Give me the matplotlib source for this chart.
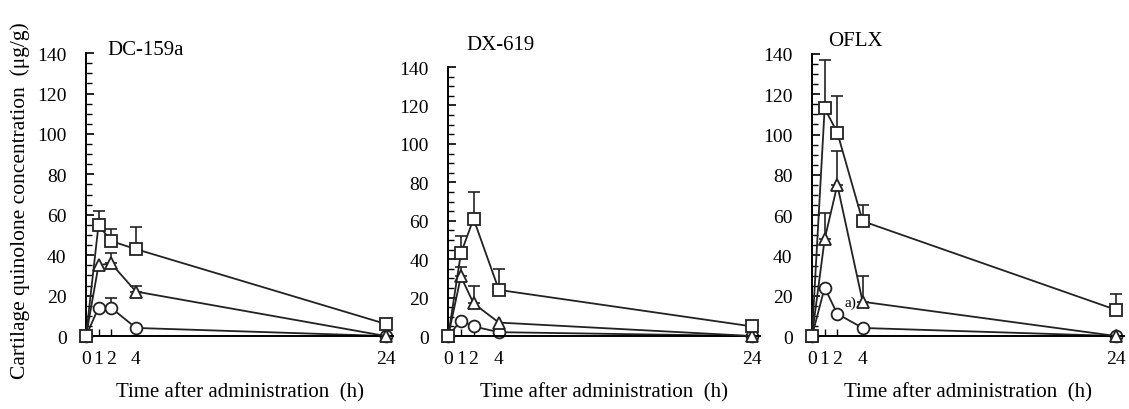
import numpy as np
import matplotlib
matplotlib.use("Agg")
import matplotlib.pyplot as plt
from matplotlib.ticker import MultipleLocator

plt.rcParams['font.family'] = ['Liberation Serif', 'DejaVu Serif']

# data
times = [0, 1, 2, 4, 24]
drugs = ["DC-159a", "DX-619", "OFLX"]

dc_square = [0, 55, 47, 43, 6]
dc_square_err = [0, 7, 6, 11, 0]
dc_triangle = [0, 35, 36, 22, 0]
dc_triangle_err = [0, 0, 5, 3, 0]
dc_circle = [0, 14, 14, 4, 0]
dc_circle_err = [0, 0, 5, 0, 0]

dx_square = [0, 43, 61, 24, 5]
dx_square_err = [0, 9, 14, 11, 0]
dx_triangle = [0, 31, 17, 7, 0]
dx_triangle_err = [0, 5, 9, 0, 0]
dx_circle = [0, 8, 5, 2, 0]
dx_circle_err = [0, 0, 0, 0, 0]

of_square = [0, 113, 101, 57, 13]
of_square_err = [0, 24, 18, 8, 8]
of_triangle = [0, 48, 75, 17, 0]
of_triangle_err = [0, 13, 17, 13, 0]
of_circle = [0, 24, 11, 4, 0]
of_circle_err = [0, 0, 0, 0, 0]

# drawn circle -> triangle -> square so squares sit on top
series = {
    "DC-159a": [(dc_circle, dc_circle_err, 'o'), (dc_triangle, dc_triangle_err, '^'), (dc_square, dc_square_err, 's')],
    "DX-619": [(dx_circle, dx_circle_err, 'o'), (dx_triangle, dx_triangle_err, '^'), (dx_square, dx_square_err, 's')],
    "OFLX": [(of_circle, of_circle_err, 'o'), (of_triangle, of_triangle_err, '^'), (of_square, of_square_err, 's')],
}

# axes positions (figure fraction)
boxes = [
    [0.0762, 0.178, 0.272, 0.690],
    [0.397, 0.178, 0.276, 0.656],
    [0.7192, 0.178, 0.276, 0.688],
]
title_xy = [(0.0955, 0.878), (0.4135, 0.890), (0.7333, 0.898)]

fig = plt.figure(figsize=(11.29, 4.10), dpi=100)

for i, name in enumerate(drugs):
    ax = fig.add_axes(boxes[i])
    z = 2
    for vals, errs, mk in series[name]:
        ax.plot(times, vals, color='#222222', lw=1.3, zorder=z, clip_on=False)
        idx = [j for j, e in enumerate(errs) if e > 0]
        if idx:
            ax.errorbar([times[j] for j in idx], [vals[j] for j in idx],
                        yerr=[[0] * len(idx), [errs[j] for j in idx]],
                        fmt='none', ecolor='#222222', elinewidth=1.2,
                        capsize=4, capthick=1.2, zorder=z, clip_on=False)
        ax.plot(times, vals, linestyle='none', marker=mk, markersize=8.5,
                markerfacecolor='white', markeredgecolor='#222222',
                markeredgewidth=1.3, zorder=z + 0.5, clip_on=False)
        z += 1

    ax.set_xlim(0, 24.6)
    ax.set_ylim(0, 140)
    ax.set_xticks(times)
    ax.set_xticklabels([str(t) for t in times])
    ax.yaxis.set_major_locator(MultipleLocator(20))
    ax.yaxis.set_minor_locator(MultipleLocator(5))
    ax.tick_params(axis='y', which='major', direction='in', length=6, width=1.2, labelsize=14, pad=14)
    ax.tick_params(axis='y', which='minor', direction='in', length=4, width=1.0)
    ax.tick_params(axis='x', which='major', direction='in', length=5, width=1.0, labelsize=14, pad=10)
    for s in ['top', 'right']:
        ax.spines[s].set_visible(False)
    ax.spines['left'].set_linewidth(1.4)
    ax.spines['bottom'].set_linewidth(1.4)
    ax.set_xlabel("Time after administration  (h)", fontsize=15, labelpad=11)
    fig.text(title_xy[i][0], title_xy[i][1], name, fontsize=15, ha='left', va='center')
    if name == "OFLX":
        ax.text(2.6, 15, "a)", fontsize=11)

fig.text(0.018, 0.51, "Cartilage quinolone concentration  (\u03bcg/g)",
         rotation=90, ha='center', va='center', fontsize=15.5)

fig.savefig("out.png", dpi=100)
